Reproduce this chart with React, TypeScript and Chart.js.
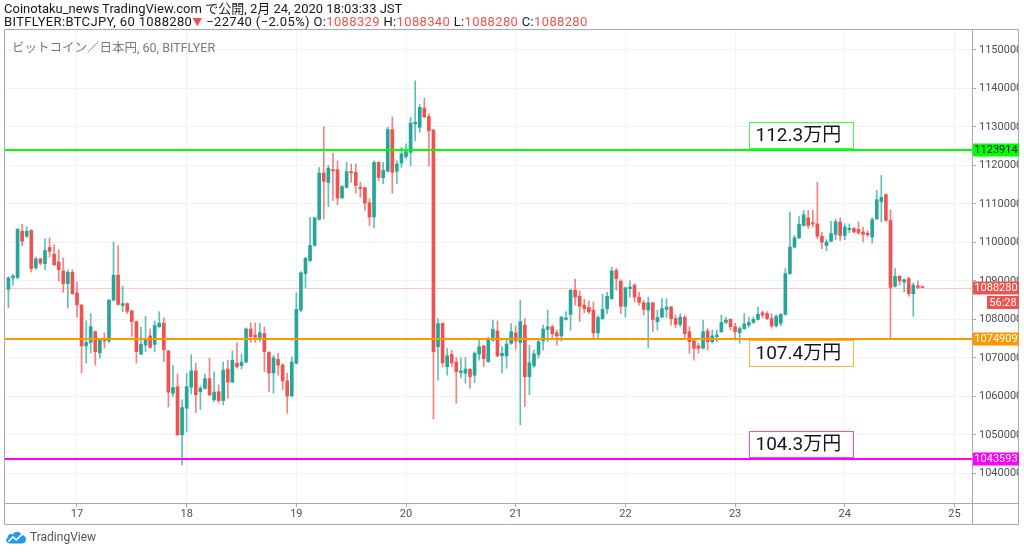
import React, { useEffect, useRef } from 'react';
import { Chart, registerables } from 'chart.js';

Chart.register(...registerables);

const FONT = 'Roboto, "Noto Sans CJK JP", "Noto Sans", sans-serif';

// hours relative to Feb 17 00:00 of the first hourly candle (Feb 16 09:00)
const START_HOUR = -15;
const DAY_LABELS = ['17', '18', '19', '20', '21', '22', '23', '24', '25'];
const Y_TICKS = [1040000, 1050000, 1060000, 1070000, 1080000, 1090000, 1100000, 1110000, 1120000, 1130000, 1140000, 1150000];

const OPEN = [
  1087800, 1090800, 1090900, 1102900, 1101600, 1103100, 1093400, 1095700, 1094500, 1098700,
  1096900, 1094900, 1092600, 1089300, 1092200, 1086900, 1083700, 1073100, 1074000, 1076800,
  1071300, 1075100, 1074400, 1085000, 1091500, 1083600, 1084100, 1082200, 1079400, 1071000,
  1073300, 1075700, 1073500, 1078100, 1079000, 1071800, 1060800, 1062500, 1050000, 1056900,
  1062400, 1066600, 1061200, 1062100, 1064600, 1059100, 1061200, 1058900, 1067100, 1063700,
  1068600, 1068000, 1068900, 1077500, 1075900, 1075300, 1076300, 1071400, 1066100, 1069600,
  1068100, 1064000, 1060100, 1068600, 1082400, 1091900, 1095300, 1099200, 1106000, 1118000,
  1115600, 1118900, 1118900, 1111600, 1114300, 1118400, 1118200, 1114300, 1114200, 1110300,
  1106600, 1120800, 1116800, 1118500, 1129300, 1118500, 1120600, 1122300, 1123400, 1130800,
  1129900, 1134900, 1132700, 1129200, 1072900, 1078900, 1067700, 1070900, 1068900, 1066200,
  1066000, 1067000, 1065500, 1071000, 1073100, 1069000, 1074600, 1077000, 1070500, 1070500,
  1073800, 1076500, 1074000, 1078500, 1065100, 1067900, 1070900, 1074400, 1077400, 1078100,
  1076500, 1075700, 1080000, 1081300, 1087600, 1086000, 1083700, 1083100, 1082400, 1076500,
  1080200, 1082800, 1085400, 1092700, 1089900, 1083400, 1088000, 1088900, 1085800, 1084300,
  1082400, 1084300, 1079400, 1080600, 1082600, 1083200, 1080200, 1078700, 1080500, 1076800,
  1074400, 1073100, 1072500, 1077000, 1074200, 1075500, 1076800, 1079200, 1080000, 1078100,
  1076500, 1077600, 1078500, 1079200, 1080000, 1081700, 1081500, 1080200, 1078300, 1079000,
  1081300, 1091900, 1098800, 1101200, 1104400, 1106400, 1105100, 1104800, 1101600, 1099200,
  1100300, 1102100, 1105300, 1101800, 1103300, 1103600, 1103400, 1102700, 1102400, 1101400,
  1106100, 1110600, 1112400, 1105700, 1088600, 1091200, 1089700, 1090600, 1086700, 1088700,
  1088329,
];

const HIGH = [
  1091000, 1091700, 1103600, 1104700, 1104100, 1103300, 1096200, 1096000, 1101000, 1101200,
  1099400, 1098100, 1096000, 1092900, 1092900, 1089700, 1083900, 1079600, 1081500, 1077000,
  1075000, 1076500, 1085200, 1100100, 1099200, 1088600, 1084300, 1082400, 1079600, 1077900,
  1080800, 1077500, 1079600, 1082000, 1080400, 1072000, 1068100, 1065800, 1059100, 1066000,
  1070800, 1068600, 1062700, 1065800, 1069900, 1066400, 1063000, 1068900, 1069400, 1071800,
  1074000, 1071000, 1077800, 1079100, 1079100, 1078900, 1078000, 1071600, 1070700, 1071200,
  1068600, 1066000, 1070300, 1086900, 1092400, 1096100, 1106500, 1106600, 1119500, 1130100,
  1120000, 1123200, 1121200, 1114800, 1120800, 1120400, 1120400, 1115600, 1114400, 1111300,
  1121200, 1121000, 1120800, 1129900, 1132600, 1121200, 1124700, 1125600, 1132500, 1142000,
  1135900, 1137500, 1133500, 1129400, 1080200, 1079100, 1072500, 1072000, 1070100, 1070100,
  1070100, 1067300, 1071600, 1074600, 1073300, 1075400, 1079800, 1079600, 1072900, 1074600,
  1078900, 1078300, 1085000, 1080200, 1073300, 1072000, 1075100, 1078500, 1082400, 1078500,
  1077200, 1080800, 1082000, 1087800, 1090500, 1087400, 1085200, 1084800, 1084500, 1081000,
  1086500, 1087000, 1093600, 1093200, 1090300, 1088400, 1090000, 1089300, 1087000, 1085000,
  1085800, 1084500, 1082400, 1085400, 1085400, 1083400, 1081100, 1081500, 1081100, 1078100,
  1074600, 1073800, 1079800, 1077600, 1077200, 1077200, 1081100, 1080600, 1080200, 1079000,
  1078100, 1081500, 1080600, 1080600, 1083200, 1082200, 1082000, 1081500, 1081200, 1081500,
  1093200, 1107800, 1101800, 1106700, 1108300, 1108300, 1108300, 1115600, 1102700, 1100700,
  1105500, 1106100, 1106400, 1104800, 1104800, 1104000, 1105300, 1104000, 1103000, 1106400,
  1113500, 1117400, 1112600, 1108500, 1093200, 1091400, 1090500, 1091000, 1089500, 1090000,
  1088340,
];

const LOW = [
  1083000, 1088900, 1090500, 1099100, 1101300, 1092300, 1092900, 1094200, 1092900, 1096200,
  1094000, 1089900, 1087000, 1083000, 1086500, 1080600, 1066100, 1068700, 1071300, 1068100,
  1069900, 1072500, 1073900, 1084800, 1083700, 1082000, 1081500, 1075600, 1068600, 1070800,
  1071600, 1072500, 1071600, 1077900, 1069000, 1057200, 1059900, 1049800, 1042200, 1050700,
  1060600, 1055800, 1056500, 1061800, 1060100, 1058600, 1058300, 1057800, 1059500, 1063500,
  1067300, 1067100, 1068700, 1074000, 1074000, 1074300, 1066400, 1061200, 1060800, 1065500,
  1061700, 1055600, 1059900, 1068400, 1082000, 1088200, 1095000, 1099000, 1105800, 1106100,
  1109300, 1110900, 1109800, 1111300, 1114100, 1115600, 1112800, 1111700, 1108300, 1104400,
  1103800, 1116000, 1115200, 1118300, 1112800, 1115200, 1119500, 1121700, 1119900, 1126400,
  1128600, 1132400, 1119900, 1054100, 1064200, 1067700, 1065500, 1067700, 1058200, 1064800,
  1063400, 1062100, 1063600, 1069400, 1067700, 1068800, 1074300, 1070300, 1066000, 1067300,
  1073500, 1072200, 1052600, 1057300, 1060400, 1067600, 1069900, 1072000, 1074200, 1074800,
  1073300, 1074400, 1079800, 1077200, 1083700, 1079400, 1081700, 1081500, 1075100, 1075100,
  1080000, 1081500, 1085200, 1087600, 1081500, 1080600, 1085800, 1084500, 1083700, 1081100,
  1072600, 1076800, 1077200, 1080400, 1080500, 1078500, 1077800, 1078100, 1075100, 1071200,
  1069400, 1071200, 1072300, 1072000, 1073800, 1074200, 1076600, 1078900, 1077200, 1074600,
  1073800, 1077400, 1078000, 1079000, 1079800, 1080400, 1079900, 1077800, 1078000, 1078300,
  1081100, 1091600, 1098500, 1101000, 1104200, 1103600, 1104000, 1101000, 1098400, 1097800,
  1100100, 1100700, 1100500, 1100700, 1102500, 1102500, 1102100, 1100100, 1101500, 1099800,
  1105900, 1105300, 1105500, 1075100, 1088400, 1088900, 1087100, 1086000, 1080800, 1088000,
  1088280,
];

const CLOSE = [
  1090800, 1091300, 1103400, 1100300, 1102900, 1093200, 1095700, 1094600, 1097900, 1097700,
  1094200, 1092900, 1089300, 1092200, 1086700, 1083800, 1073100, 1074000, 1078100, 1071600,
  1074800, 1074400, 1085000, 1091500, 1083900, 1084100, 1082100, 1079400, 1071600, 1073500,
  1074800, 1072700, 1078400, 1079000, 1072100, 1061100, 1062300, 1050000, 1057100, 1062500,
  1066600, 1060400, 1062100, 1064600, 1060400, 1061100, 1058900, 1066800, 1063700, 1069400,
  1067700, 1068900, 1077500, 1075500, 1075400, 1076500, 1071600, 1066100, 1070000, 1068100,
  1064000, 1060100, 1068900, 1082600, 1092100, 1095900, 1099200, 1106400, 1118000, 1115900,
  1119300, 1118600, 1111500, 1114500, 1118400, 1118100, 1114800, 1114000, 1110200, 1106600,
  1120800, 1116900, 1118700, 1129300, 1118200, 1120400, 1123000, 1123600, 1131000, 1131200,
  1135100, 1132600, 1129000, 1071600, 1078900, 1068700, 1070500, 1068700, 1066400, 1066600,
  1067100, 1065100, 1071200, 1072900, 1069800, 1074600, 1077400, 1070500, 1071200, 1073600,
  1076800, 1074400, 1079400, 1065100, 1068700, 1071000, 1074200, 1077500, 1078100, 1076300,
  1075700, 1080600, 1080400, 1087600, 1085800, 1083400, 1082800, 1082000, 1076500, 1080500,
  1082600, 1086000, 1092600, 1090600, 1083400, 1088200, 1088400, 1085800, 1084400, 1082600,
  1084300, 1080000, 1080500, 1082800, 1083200, 1080200, 1078700, 1080600, 1076300, 1074200,
  1072500, 1072500, 1076800, 1074200, 1075700, 1075900, 1079200, 1079800, 1078100, 1076800,
  1077600, 1078800, 1079200, 1080000, 1081300, 1081100, 1080200, 1078300, 1080800, 1081300,
  1091900, 1098800, 1101200, 1104700, 1107200, 1104400, 1104800, 1101600, 1100100, 1100100,
  1102300, 1105400, 1101800, 1104000, 1103700, 1102700, 1102500, 1102100, 1102000, 1105900,
  1111100, 1111700, 1105700, 1088300, 1091200, 1090000, 1090300, 1086700, 1088900, 1088300,
  1088280,
];

const LEVELS = [1123914, 1074909, 1043593];
const LEVEL_COLORS = ['#00ff00', '#ff9800', '#ff00ff'];
const LEVEL_TAG_TEXT = ['#131722', '#ffffff', '#ffffff'];
const NOTE_TEXTS = ['112.3万円', '107.4万円', '104.3万円'];
const NOTE_ABOVE = [true, false, true];
const NOTE_HOUR = 147; // Feb 23 03:00, left edge of the note boxes
const LAST_PRICE = 1088280;
const COUNTDOWN = '56:28';

const UP = '#26a69a';
const DOWN = '#ef5350';
const UP_WICK = 'rgba(38,166,154,0.72)';
const DOWN_WICK = 'rgba(239,83,80,0.72)';
const FRAME = '#a7aab2';

const overlay = {
  id: 'overlay',
  beforeDatasetsDraw(chart: any) {
    const { ctx, chartArea: a, scales } = chart;
    const py = Math.round(scales.y.getPixelForValue(LAST_PRICE)) + 0.5;
    ctx.save();
    ctx.strokeStyle = 'rgba(239,83,80,0.3)';
    ctx.lineWidth = 1;
    ctx.beginPath();
    ctx.moveTo(a.left, py);
    ctx.lineTo(a.right, py);
    ctx.stroke();
    ctx.restore();
  },
  afterDatasetsDraw(chart: any) {
    const { ctx, chartArea: a, scales } = chart;
    ctx.save();
    LEVELS.forEach((v, k) => {
      const py = Math.round(scales.y.getPixelForValue(v));
      ctx.fillStyle = LEVEL_COLORS[k];
      ctx.fillRect(a.left, py - 1, a.right - a.left, 2);
    });
    const nx = Math.round(scales.x.getPixelForValue(NOTE_HOUR)) + 0.5;
    const w = 104;
    const h = 27;
    LEVELS.forEach((v, k) => {
      const py = Math.round(scales.y.getPixelForValue(v));
      const top = NOTE_ABOVE[k] ? py - 1 - h : py + 1;
      ctx.fillStyle = 'rgba(255,255,255,0.9)';
      ctx.fillRect(nx, top + 0.5, w, h - 1);
      ctx.strokeStyle = LEVEL_COLORS[k];
      ctx.globalAlpha = 0.75;
      ctx.lineWidth = 1;
      ctx.strokeRect(nx, top + 0.5, w, h - 1);
      ctx.globalAlpha = 1;
      ctx.fillStyle = '#131722';
      ctx.font = '19px ' + FONT;
      ctx.textBaseline = 'middle';
      ctx.textAlign = 'left';
      ctx.fillText(NOTE_TEXTS[k], nx + 6, top + h / 2 + 1);
    });
    ctx.restore();
  },
  afterDraw(chart: any) {
    const { ctx, chartArea: a, scales } = chart;
    ctx.save();
    ctx.strokeStyle = FRAME;
    ctx.lineWidth = 1;
    const L = 4.5, T = 29.5, R = 1018.5, B = 524.5;
    ctx.beginPath();
    ctx.rect(L, T, R - L, B - T);
    ctx.moveTo(Math.round(a.right) + 0.5, T);
    ctx.lineTo(Math.round(a.right) + 0.5, B);
    ctx.moveTo(L, Math.round(a.bottom) + 0.5);
    ctx.lineTo(R, Math.round(a.bottom) + 0.5);
    ctx.stroke();

    const tag = (v: number, bg: string, fg: string) => {
      const py = Math.round(scales.y.getPixelForValue(v));
      ctx.fillStyle = bg;
      ctx.fillRect(a.right + 1, py - 6.5, 46, 13);
      ctx.fillStyle = fg;
      ctx.font = '11px ' + FONT;
      ctx.textAlign = 'center';
      ctx.textBaseline = 'middle';
      ctx.fillText(String(v), a.right + 24, py + 0.5);
      return py;
    };
    LEVELS.forEach((v, k) => tag(v, LEVEL_COLORS[k], LEVEL_TAG_TEXT[k]));
    const lp = tag(LAST_PRICE, DOWN, '#ffffff');
    ctx.fillStyle = DOWN;
    ctx.fillRect(a.right + 15, lp + 8, 32, 13);
    ctx.fillStyle = '#ffffff';
    ctx.fillText(COUNTDOWN, a.right + 31, lp + 15);
    ctx.restore();
  },
};

export default function App() {
  const ref = useRef<HTMLCanvasElement | null>(null);

  useEffect(() => {
    if (!ref.current) return;
    const up = CLOSE.map((c, i) => c >= OPEN[i]);
    const chart = new Chart(ref.current, {
      type: 'bar',
      data: {
        datasets: [
          {
            label: 'body',
            data: OPEN.map((o, i) => ({ x: START_HOUR + i, y: [o, CLOSE[i]] })) as any,
            backgroundColor: up.map((u) => (u ? UP : DOWN)),
            barThickness: 3,
            minBarLength: 1,
            grouped: false,
            borderWidth: 0,
            order: 0,
          } as any,
          {
            label: 'wick',
            data: LOW.map((l, i) => ({ x: START_HOUR + i, y: [l, HIGH[i]] })) as any,
            backgroundColor: up.map((u) => (u ? UP_WICK : DOWN_WICK)),
            barThickness: 1,
            minBarLength: 1,
            grouped: false,
            borderWidth: 0,
            order: 1,
          } as any,
        ],
      },
      options: {
        animation: false,
        responsive: false,
        devicePixelRatio: 1,
        layout: { padding: { left: 5, top: 30, right: 5, bottom: 28 } },
        plugins: { legend: { display: false }, tooltip: { enabled: false }, title: { display: false } },
        scales: {
          x: {
            type: 'linear',
            min: -15.75,
            max: 195.84,
            offset: false,
            grid: { color: '#eff2f7', offset: false, tickLength: 4, tickColor: FRAME, drawTicks: true },
            border: { display: false },
            ticks: {
              autoSkip: false,
              maxRotation: 0,
              color: '#4a4e59',
              font: { size: 11, family: FONT },
              padding: 1,
              callback: (_v: any, i: number) => DAY_LABELS[i],
            },
            afterBuildTicks: (s: any) => {
              s.ticks = DAY_LABELS.map((_, k) => ({ value: k * 24 }));
            },
            afterFit: (s: any) => {
              s.height = 21;
            },
          },
          y: {
            type: 'linear',
            position: 'right',
            min: 1032282,
            max: 1155197,
            grid: { color: '#eff2f7', tickLength: 4, tickColor: FRAME, drawTicks: true },
            border: { display: false },
            ticks: {
              color: '#4a4e59',
              font: { size: 11, family: FONT },
              padding: 3,
              callback: (v: any) => String(v),
            },
            afterBuildTicks: (s: any) => {
              s.ticks = Y_TICKS.map((v) => ({ value: v }));
            },
            afterFit: (s: any) => {
              s.width = 47;
            },
          },
        },
      } as any,
      plugins: [overlay],
    });
    return () => chart.destroy();
  }, []);

  const red = { color: DOWN };
  return (
    <div style={{ position: 'fixed', left: 0, top: 0, width: 1024, height: 552, background: '#ffffff', fontFamily: FONT, color: '#131722', overflow: 'hidden' }}>
      <canvas ref={ref} width={1024} height={552} style={{ position: 'absolute', left: 0, top: 0, width: 1024, height: 552 }} />
      <div style={{ position: 'absolute', left: 4, top: 1, fontSize: 13, lineHeight: '16px', whiteSpace: 'nowrap' }}>
        Coinotaku_news TradingView.com で公開, 2月 24, 2020 18:03:33 JST
      </div>
      <div style={{ position: 'absolute', left: 4, top: 14, fontSize: 13, lineHeight: '16px', letterSpacing: '0.35px', whiteSpace: 'nowrap' }}>
        BITFLYER:BTCJPY, 60 1088280<span style={{ ...red, fontSize: 10 }}>▼</span> −22740 (−2.05%) O:<span style={red}>1088329</span> H:<span style={red}>1088340</span> L:<span style={red}>1088280</span> C:<span style={red}>1088280</span>
      </div>
      <div style={{ position: 'absolute', left: 12, top: 40, fontSize: 12.5, lineHeight: '16px', color: '#787b86', whiteSpace: 'nowrap' }}>
        ビットコイン／日本円, 60, BITFLYER
      </div>
      <div style={{ position: 'absolute', left: 5, top: 530, display: 'flex', alignItems: 'center', whiteSpace: 'nowrap' }}>
        <svg width="22" height="14" viewBox="0 0 22 14">
          <path d="M5 13.5 C1.2 13.5 0 9.5 2.6 7.8 C2.4 4.6 5.6 3.2 7.9 4.6 C9.4 1 15.2 0.8 16.4 5 C19.6 5 21.8 8 20.8 10.8 C20.2 12.8 18.8 13.5 17.2 13.5 Z" fill="#2196f3" />
          <polyline points="3.5,11.5 8,7 11.2,9.8 16.8,4.6" fill="none" stroke="#ffffff" strokeWidth="1.7" />
        </svg>
        <span style={{ marginLeft: 3, fontSize: 12, color: '#50535e' }}>TradingView</span>
      </div>
    </div>
  );
}
